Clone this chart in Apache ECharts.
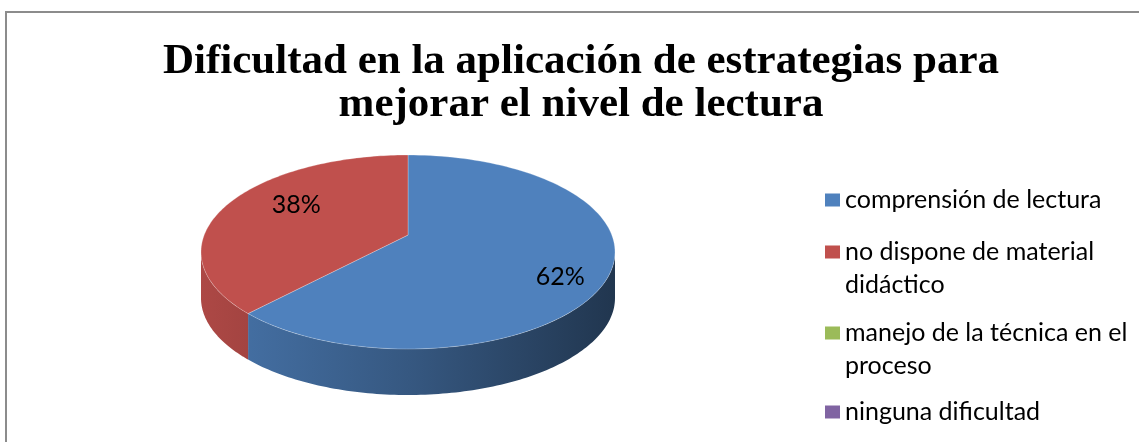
<!DOCTYPE html>
<html><head><meta charset="utf-8">
<script src="https://cdn.jsdelivr.net/npm/echarts@6/dist/echarts.min.js"></script>
<style>html,body{margin:0;padding:0;background:#fff}#c{width:1139px;height:442px}</style>
</head><body><div id="c"></div>
<script>
// ---- data ----
const titleText = 'Dificultad en la aplicación de estrategias para\nmejorar el nivel de lectura';
const categories = ['comprensión de lectura', 'no dispone de material didáctico', 'manejo de la técnica en el proceso', 'ninguna dificultad'];
const legendLabels = ['comprensión de lectura', 'no dispone de material\ndidáctico', 'manejo de la técnica en el\nproceso', 'ninguna dificultad'];
const values = [62, 38, 0, 0];
const colors = ['#4F81BD', '#C0504D', '#9BBB59', '#8064A2'];

// ---- geometry / style ----
const CX = 408, CY = 252, RX = 207, RY = 97, DEPTH = 46, A = -0.175;
const K = Math.sqrt(1 - A * A);
function P(r, phi, dy) {
  const u = r * Math.cos(phi), v = r * Math.sin(phi);
  const d = 1 + A * v;
  return [CX + RX * (u * K / d), CY + RY * ((v + A) / d) + (dy || 0)];
}
function shade(hex, f) {
  const n = parseInt(hex.slice(1), 16);
  const r = Math.round(((n >> 16) & 255) * f), g = Math.round(((n >> 8) & 255) * f), b = Math.round((n & 255) * f);
  return 'rgb(' + r + ',' + g + ',' + b + ')';
}
const total = values.reduce((a, b) => a + b, 0);

function renderSlice(params, api) {
  const idx = params.seriesIndex;
  const v = api.value(0);
  if (!(v > 0)) return { type: 'group', children: [] };
  let cum = 0;
  for (let k = 0; k < idx; k++) cum += values[k];
  const a0 = -Math.PI / 2 + 2 * Math.PI * cum / total;
  const a1 = a0 + 2 * Math.PI * v / total;
  const N = 120;
  const children = [];
  // wall (visible front part)
  const s0 = -A;
  const w0 = Math.max(a0, Math.asin(s0)), w1 = Math.min(a1, Math.PI - Math.asin(s0));
  if (w1 > w0) {
    const pts = [];
    for (let i = 0; i <= N; i++) pts.push(P(1, w0 + (w1 - w0) * i / N));
    for (let i = N; i >= 0; i--) pts.push(P(1, w0 + (w1 - w0) * i / N, DEPTH));
    children.push({
      type: 'polygon', shape: { points: pts },
      style: {
        fill: { type: 'linear', x: CX - RX, y: 0, x2: CX + RX, y2: 0, global: true,
          colorStops: [{ offset: 0, color: shade(colors[idx], 0.9) }, { offset: 0.5, color: shade(colors[idx], 0.68) }, { offset: 1, color: shade(colors[idx], 0.42) }] },
        stroke: null
      }
    });
  }
  // top face
  const top = [P(0, 0)];
  for (let i = 0; i <= N; i++) top.push(P(1, a0 + (a1 - a0) * i / N));
  children.push({
    type: 'polygon', shape: { points: top },
    style: { fill: colors[idx], stroke: 'rgba(255,255,255,0.25)', lineWidth: 1 }
  });
  // label
  const mid = (a0 + a1) / 2;
  const lp = P(0.74, mid);
  const front = Math.sin(mid) > 0;
  children.push({
    type: 'text', x: lp[0] + (front ? 5 : 22), y: lp[1] + (front ? 15 : -6),
    style: { text: Math.round(v / total * 100) + '%', fill: '#000', font: '25px Lato', align: 'center', verticalAlign: 'middle' }
  });
  return { type: 'group', children: children };
}

const legendTops = [183.5, 235.5, 316.5, 395.5];
// square marker at the top of a taller icon box so it lines up with the first text line
const tallIcon = 'path://M0,0h15v13h-15z M0,46h15v0z';
const chart = echarts.init(document.getElementById('c'), null, { renderer: 'canvas' });
chart.setOption({
  animation: false,
  title: {
    text: titleText, left: 581, top: 40, textAlign: 'center', padding: 0,
    textStyle: { fontFamily: 'Liberation Serif', fontWeight: 'bold', fontSize: 43, lineHeight: 43, color: '#000' }
  },
  graphic: [{ type: 'rect', shape: { x: 6, y: 12, width: 1200, height: 500 }, style: { fill: null, stroke: '#8C8C8C', lineWidth: 2 }, silent: true, z: -1 }],
  legend: categories.map((c, i) => {
    const two = legendLabels[i].includes('\n');
    return {
      data: [{ name: c, icon: two ? tallIcon : 'rect' }], left: 825, top: legendTops[i], orient: 'vertical', padding: 0,
      itemWidth: 15, itemHeight: two ? 46 : 13, selectedMode: false, symbolKeepAspect: false,
      formatter: () => legendLabels[i],
      textStyle: { fontFamily: 'Lato', fontSize: 25, lineHeight: 33, color: '#000' }
    };
  }),
  series: categories.map((c, i) => ({
    type: 'custom', name: c, coordinateSystem: 'none',
    itemStyle: { color: colors[i] },
    data: [[values[i]]],
    renderItem: renderSlice
  }))
});
</script></body></html>
